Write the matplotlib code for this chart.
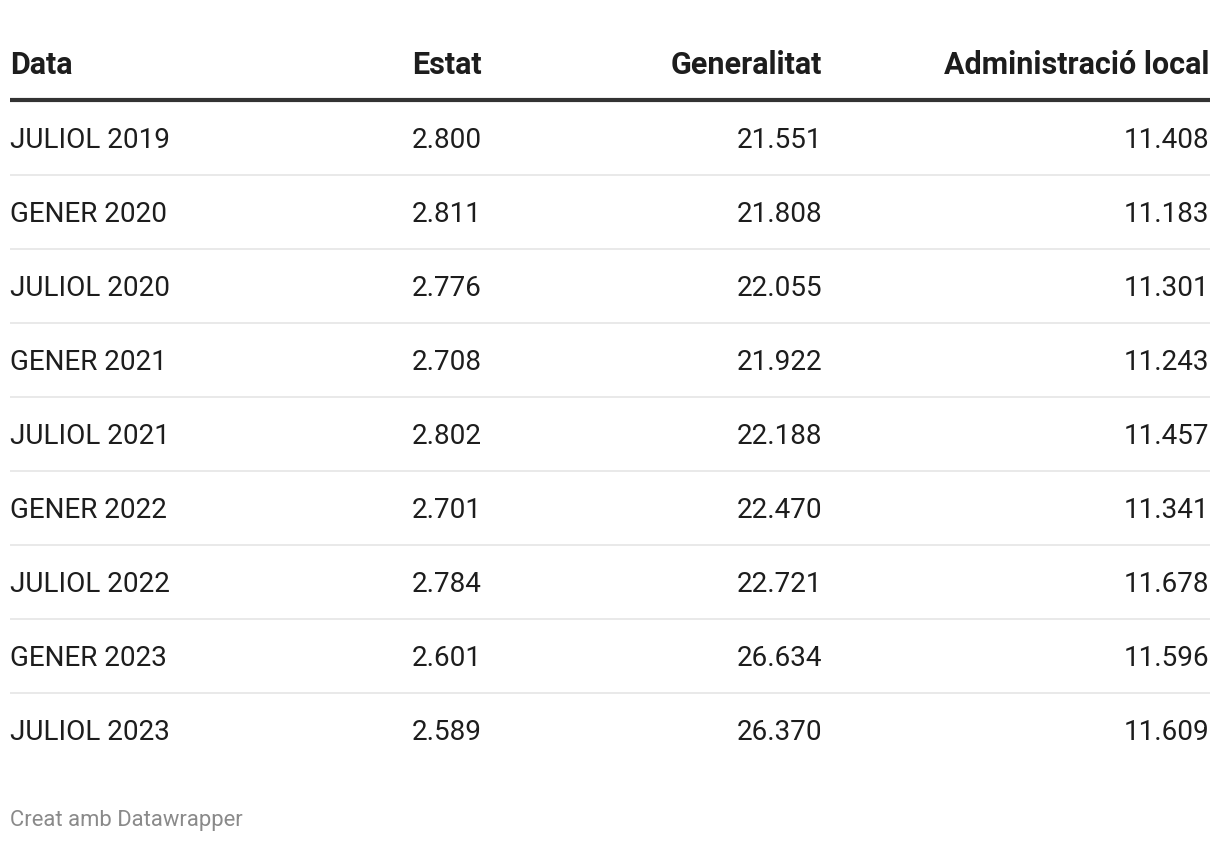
import matplotlib
matplotlib.use("Agg")
import matplotlib.pyplot as plt

# table contents
columns = ["Data", "Estat", "Generalitat", "Administració local"]
dates = ["JULIOL 2019", "GENER 2020", "JULIOL 2020", "GENER 2021", "JULIOL 2021",
         "GENER 2022", "JULIOL 2022", "GENER 2023", "JULIOL 2023"]
estat = ["2.800", "2.811", "2.776", "2.708", "2.802", "2.701", "2.784", "2.601", "2.589"]
generalitat = ["21.551", "21.808", "22.055", "21.922", "22.188", "22.470", "22.721", "26.634", "26.370"]
admin_local = ["11.408", "11.183", "11.301", "11.243", "11.457", "11.341", "11.678", "11.596", "11.609"]
footer = "Creat amb Datawrapper"

plt.rcParams['font.family'] = ['Roboto', 'DejaVu Sans']

W, H = 1220, 842
fig = plt.figure(figsize=(W / 100, H / 100), dpi=100)
ax = fig.add_axes([0, 0, 1, 1])
ax.set_xlim(0, W)
ax.set_ylim(H, 0)
ax.axis('off')

# column anchors (pixels) and alignment
col_x = [10, 481.5, 822.5, 1209.5]
col_ha = ['left', 'right', 'right', 'right']
text_col = '#1d1d1d'

# header
for name, x, ha in zip(columns, col_x, col_ha):
    ax.text(x, 74, name, ha=ha, va='baseline', fontsize=22, fontweight='bold', color=text_col)
ax.plot([10, 1210], [100, 100], color='#333333', lw=3, solid_capstyle='butt')

row_h = 74
for i in range(len(dates)):
    base = 148 + row_h * i
    row = [dates[i], estat[i], generalitat[i], admin_local[i]]
    for val, x, ha in zip(row, col_x, col_ha):
        ax.text(x, base, val, ha=ha, va='baseline', fontsize=20.1, color=text_col)
    if i < len(dates) - 1:
        sep = 175 + row_h * i
        ax.plot([10, 1210], [sep, sep], color='#e9e9e9', lw=1.4, solid_capstyle='butt')

ax.text(10, 826, footer, ha='left', va='baseline', fontsize=15.8, color='#8a8a8a')

fig.savefig('out.png', dpi=100)
